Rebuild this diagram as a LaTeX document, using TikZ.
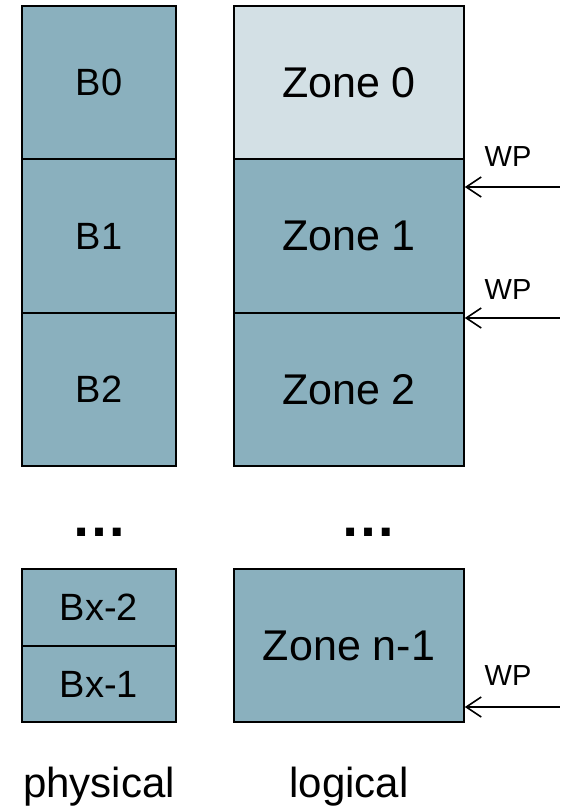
\documentclass[tikz,border=0pt]{standalone}
\usepackage{fontspec}
\setmainfont{Liberation Sans}
\usetikzlibrary{arrows.meta,positioning}

\definecolor{blockblue}{HTML}{8AB0BE}
\definecolor{zonelight}{HTML}{D3E0E5}

\tikzset{
  block/.style={draw,line width=1.6pt,fill=blockblue,minimum width=154pt,inner sep=0pt,font=\fontsize{38}{40}\selectfont},
  zone/.style={block,minimum width=230pt,font=\fontsize{43}{46}\selectfont},
  wp/.style={line width=1.6pt,{Straight Barb[length=15pt,width=20pt,line width=1.6pt]}-},
  wplabel/.style={font=\fontsize{29}{31}\selectfont},
}

\begin{document}
\begin{tikzpicture}[x=1pt,y=-1pt]
\useasboundingbox (0,0) rectangle (564,806);

% physical blocks
\node[block,minimum height=153pt] (b0) at (99,82.5) {B0};
\node[block,minimum height=154pt] (b1) at (99,236) {B1};
\node[block,minimum height=153pt] (b2) at (99,389.5) {B2};
\node[block,minimum height=77pt] (bx2) at (99,607.5) {Bx-2};
\node[block,minimum height=76pt] (bx1) at (99,684) {Bx-1};

% logical zones
\node[zone,minimum height=153pt,fill=zonelight] (z0) at (349,82.5) {Zone 0};
\node[zone,minimum height=154pt] (z1) at (349,236) {Zone 1};
\node[zone,minimum height=153pt] (z2) at (349,389.5) {Zone 2};
\node[zone,minimum height=153pt] (zn) at (349,645.5) {Zone n-1};

\node[font=\fontsize{56}{58}\selectfont\bfseries] (dotsb) at (99,532) {…};
\node[font=\fontsize{56}{58}\selectfont\bfseries] (dotsz) at (368,532) {…};

% write pointers
\coordinate (w1) at (560,187);
\coordinate (w2) at (560,318);
\coordinate (w3) at (560,707);
\draw[wp] (w1 -| z1.east) -- (w1);
\draw[wp] (w2 -| z2.east) -- (w2);
\draw[wp] (w3 -| zn.east) -- (w3);
\node[wplabel] (wp1) at (508,157) {WP};
\node[wplabel] (wp2) at (508,290) {WP};
\node[wplabel] (wp3) at (508,676) {WP};

\node[font=\fontsize{42}{44}\selectfont,anchor=base] (phys) at (99,797) {physical};
\node[font=\fontsize{42}{44}\selectfont,anchor=base] (logi) at (349,797) {logical};

\end{tikzpicture}
\end{document}
